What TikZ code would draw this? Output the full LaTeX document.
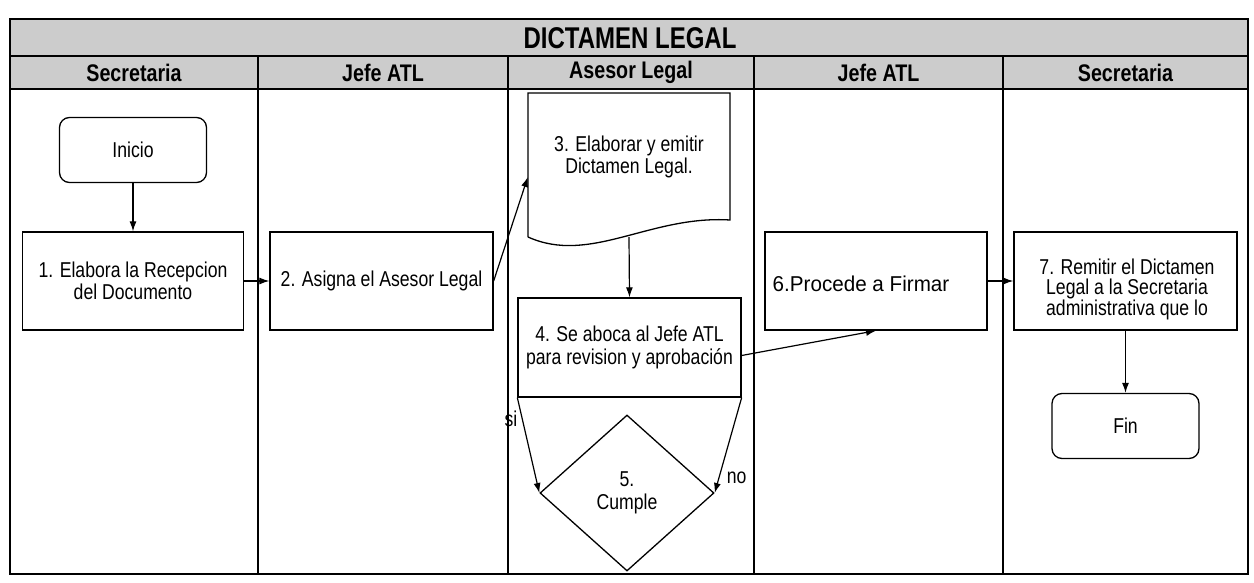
\documentclass[tikz,border=0pt]{standalone}
\usepackage{fontspec}
\setmainfont{Liberation Sans}[FakeStretch=0.82]
\newfontfamily\titlefont{Liberation Sans}[FakeStretch=0.8]
\newfontfamily\wideface{Liberation Sans}[FakeStretch=0.96]
\usetikzlibrary{shapes.geometric,arrows.meta,calc}
\begin{document}
\begin{tikzpicture}[x=1pt,y=-1pt,
  txt/.style={font=\fontsize{21.5}{22.5}\selectfont, align=center},
  box/.style={draw, line width=1.3pt, minimum width=222pt, minimum height=98pt, inner sep=2pt, txt},
  term/.style={draw, line width=1.3pt, rounded corners=10pt, minimum width=147pt, minimum height=65pt, txt},
  arr/.style={line width=1.2pt, -{Latex[length=10pt,width=7pt]}},
  frame/.style={line width=2pt},
  lane/.style={line width=1.4pt},
  hdr/.style={font=\bfseries\fontsize{24}{26}\selectfont},
  band/.style={fill=black!20}
]
\useasboundingbox (0,0) rectangle (1254,583);

% header bands
\fill[band] (10,19) rectangle (1248,89);
\draw[frame] (10,19) rectangle (1248,574);
\draw[frame] (10,56) -- (1248,56);
\draw[frame] (10,89) -- (1248,89);
\foreach \x in {258,508,754,1003} { \draw[lane] (\x,56) -- (\x,574); }

\node[font=\titlefont\bfseries\fontsize{30}{32}\selectfont] (title) at (630,38) {DICTAMEN LEGAL};
\node[hdr] (h1) at (134,72.5) {Secretaria};
\node[hdr] (h2) at (383,72.5) {Jefe ATL};
\node[hdr] (h3) at (631,72.5) {Asesor Legal};
\node[hdr] (h4) at (878.5,72.5) {Jefe ATL};
\node[hdr] (h5) at (1125.5,72.5) {Secretaria};

% nodes
\node[term] (inicio) at (133,150) {Inicio};
\node[box, minimum width=221pt] (b1) at (133,281) {1. Elabora la Recepcion\\del Documento};
\node[box, minimum width=223pt] (b2) at (381.5,281) {2. Asigna el Asesor Legal};

\node[minimum width=202pt, minimum height=144pt, inner sep=0pt] (doc3) at (629,165) {};
\draw[line width=1.3pt] (528,237) -- (528,93) -- (730,93) -- (730,220)
  .. controls (650,215) and (590,265) .. (528,237);
\node[txt] (doc3t) at (629,157) {3. Elaborar y emitir\\Dictamen Legal.};

\node[box, minimum width=223pt, minimum height=99pt] (b4) at (629.5,347.5) {4. Se aboca al Jefe ATL\\para revision y aprobación};
\node[draw, diamond, line width=1.3pt, minimum width=174pt, minimum height=156pt, inner sep=0pt, txt] (d5) at (627,493) {5.\\Cumple};

\node[box] (b6) at (876,281) {};
\node[txt, font=\wideface\fontsize{21.5}{22.5}\selectfont] (b6t) at (861,284) {6.Procede a Firmar};
\node[box, minimum width=223pt] (b7) at (1125.5,281) {};
\node[txt, font=\fontsize{21.5}{20.5}\selectfont] (b7t) at (1127,289) {7. Remitir el Dictamen\\Legal a la Secretaria\\administrativa que lo};
\node[term] (fin) at (1125.5,426) {Fin};

% connectors
\draw[arr] (inicio) -- (b1);
\draw[arr] (b1) -- (b2);
\draw[arr] (b2.east) -- ($(doc3.west)+(0,12)$);
\draw[arr] (doc3.south) -- (b4.north);
\draw[arr] ($(b4.east)+(0,8)$) -- (b6.south);
\draw[arr] (b4.south west) -- (d5.west) node[pos=0.22, left=1pt, txt] (si) {si};
\draw[arr] (b4.south east) -- (d5.east) node[pos=0.84, right=4pt, txt] (no) {no};
\draw[arr] (b6) -- (b7);
\draw[arr] (b7) -- (fin);
\end{tikzpicture}
\end{document}
